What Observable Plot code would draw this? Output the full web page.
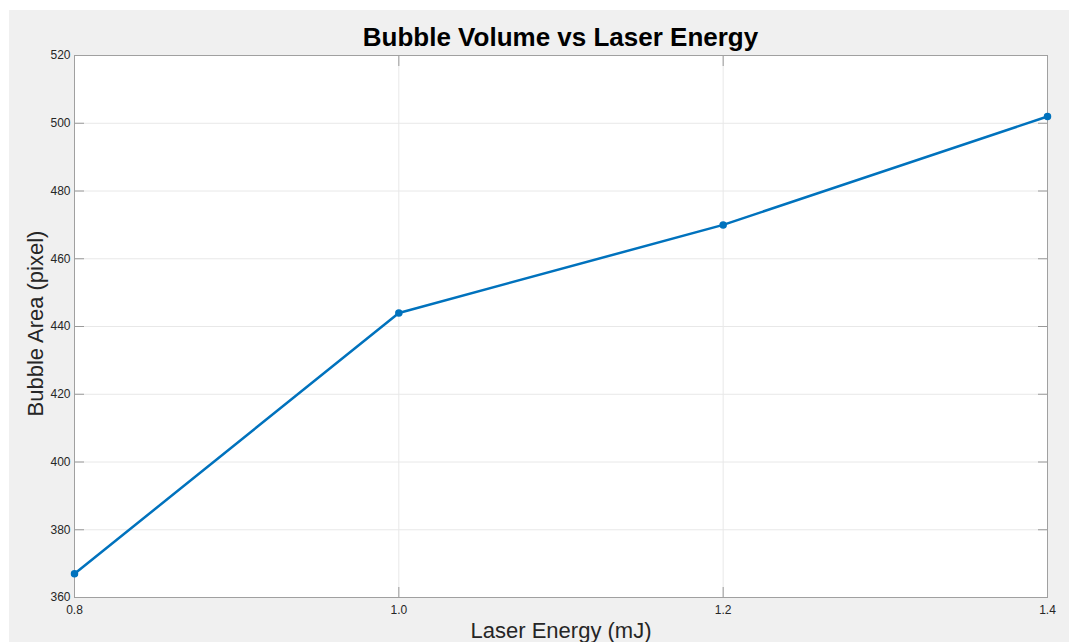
<!DOCTYPE html>
<html>
<head>
<meta charset="utf-8">
<script src="https://cdn.jsdelivr.net/npm/d3@7"></script>
<script src="https://cdn.jsdelivr.net/npm/@observablehq/plot@0.6"></script>
<style>
  html, body { margin: 0; padding: 0; background: #ffffff; width: 1069px; height: 642px; overflow: hidden; }
  #bg { position: absolute; left: 9px; top: 10px; right: 0; bottom: 0; background: #f0f0f0; }
  #chart { position: absolute; left: 0; top: 0; }
  #title { position: absolute; left: 0; width: 1121px; top: 22px; text-align: center;
           font-family: "Liberation Sans", Arial, sans-serif; font-weight: bold; font-size: 26px; color: #000; }
</style>
</head>
<body>
<div id="bg"></div>
<div id="chart"></div>
<div id="title">Bubble Volume vs Laser Energy</div>
<script>
const energy = [0.8, 1.0, 1.2, 1.4];
const area = [367, 444, 470, 502];
const xTicks = [0.8, 1.0, 1.2, 1.4];
const yTicks = [360, 380, 400, 420, 440, 460, 480, 500, 520];
const xLabel = "Laser Energy (mJ)";
const yLabel = "Bubble Area (pixel)";

const data = energy.map((e, i) => ({energy: e, area: area[i]}));
const font = "'Liberation Sans', Arial, sans-serif";
const tickColor = "#262626";

const chart = Plot.plot({
  width: 1069,
  height: 642,
  marginLeft: 74,
  marginRight: 22,
  marginTop: 55,
  marginBottom: 45,
  style: { background: "transparent", fontFamily: font, color: tickColor, overflow: "visible" },
  x: { domain: [0.8, 1.4] },
  y: { domain: [360, 520] },
  marks: [
    Plot.frame({ fill: "#ffffff", stroke: "none" }),
    Plot.gridY(yTicks, { stroke: "#e8e8e8", strokeOpacity: 1 }),
    Plot.gridX(xTicks.slice(1, -1), { stroke: "#e8e8e8", strokeOpacity: 1 }),
    Plot.axisY(yTicks, { anchor: "left", tickSize: -10, tickPadding: 14, fontSize: 12, stroke: "#9a9a9a", fill: tickColor, label: null }),
    Plot.axisY(yTicks, { anchor: "right", tickSize: -10, tickFormat: () => "", stroke: "#9a9a9a", label: null }),
    Plot.axisX(xTicks, { anchor: "bottom", tickSize: -10, tickPadding: 18, fontSize: 12, stroke: "#9a9a9a", fill: tickColor, tickFormat: d3.format(".1f"), label: null }),
    Plot.axisX(xTicks, { anchor: "top", tickSize: -10, tickFormat: () => "", stroke: "#9a9a9a", label: null }),
    Plot.frame({ stroke: "#a0a0a0", strokeWidth: 1 }),
    Plot.line(data, { x: "energy", y: "area", stroke: "#0072BD", strokeWidth: 2.5 }),
    Plot.dot(data, { x: "energy", y: "area", r: 3, fill: "#0072BD", stroke: "#0072BD" }),
    Plot.text([xLabel], { frameAnchor: "bottom", text: d => d, dy: 33, fontSize: 22, fill: tickColor, lineAnchor: "middle" }),
    Plot.text([yLabel], { frameAnchor: "left", textAnchor: "middle", text: d => d, rotate: -90, dx: -39, dy: -3, fontSize: 22, fill: tickColor, lineAnchor: "middle" })
  ]
});
document.getElementById("chart").appendChild(chart);
</script>
</body>
</html>
